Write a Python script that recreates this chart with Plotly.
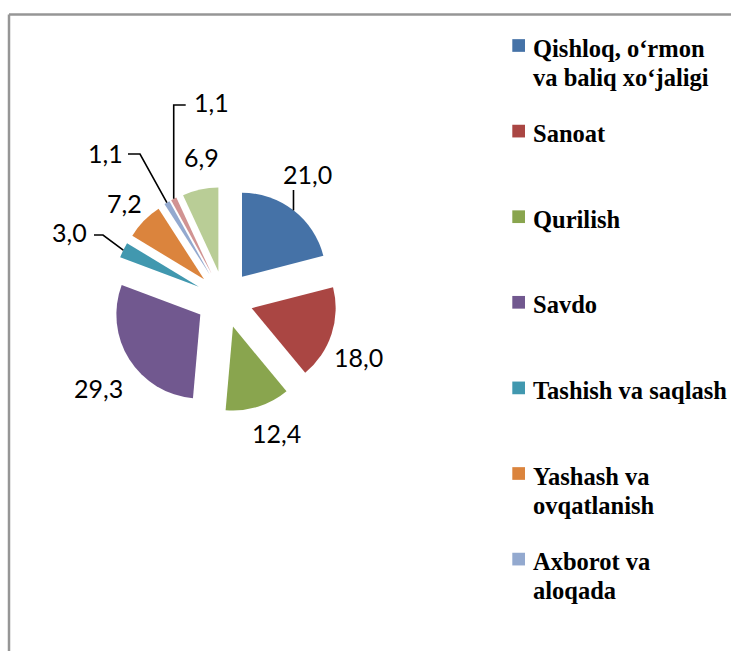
import math
import plotly.graph_objects as go

# ---------------- data ----------------
categories = [
    "Qishloq, o‘rmon va baliq xo‘jaligi",
    "Sanoat",
    "Qurilish",
    "Savdo",
    "Tashish va saqlash",
    "Yashash va ovqatlanish",
    "Axborot va aloqada",
    "Moliya va sug‘urta faoliyati",
    "Boshqa xizmatlar",
]
values = [21.0, 18.0, 12.4, 29.3, 3.0, 7.2, 1.1, 1.1, 6.9]

# legend text lines (as they wrap in the original)
legend_lines = [
    ["Qishloq, o‘rmon", "va baliq xo‘jaligi"],
    ["Sanoat"],
    ["Qurilish"],
    ["Savdo"],
    ["Tashish va saqlash"],
    ["Yashash va", "ovqatlanish"],
    ["Axborot va", "aloqada"],
]

# ---------------- style / layout ----------------
W, H = 731, 651
colors = ["#4572A7", "#AA4643", "#89A54E", "#71588F", "#4198AF",
          "#DB843D", "#93A9CF", "#D19392", "#B9CD96"]

PIE_CX, PIE_CY = 224.5, 299.3   # pixel centre of the pie
PIE_R = 84.0                     # pixel radius of the pie
PULL = 0.34

def px(x):
    return x / W

def py(y):
    return 1 - y / H

half = PIE_R * (1 + PULL)
dom_x = [px(PIE_CX - half), px(PIE_CX + half)]
dom_y = [py(PIE_CY + half), py(PIE_CY - half)]

fig = go.Figure()
fig.add_trace(go.Pie(
    values=values,
    labels=categories,
    sort=False,
    direction="clockwise",
    rotation=0,
    pull=[PULL] * len(values),
    marker=dict(colors=colors, line=dict(width=0)),
    textinfo="none",
    hoverinfo="label+value",
    showlegend=False,
    domain=dict(x=dom_x, y=dom_y),
))

# --------------- data labels ---------------
label_pos = [(307, 174), (358, 357), (276, 433), (98, 388), (69, 232),
             (124, 203), (105, 153), (211, 102), (201, 157)]

annotations = []
shapes = []
for v, (lx, ly) in zip(values, label_pos):
    annotations.append(dict(
        x=px(lx), y=py(ly), xref="paper", yref="paper",
        text=f"{v:.1f}".replace(".", ","), showarrow=False,
        xanchor="center", yanchor="middle",
        font=dict(family="Lato, Carlito, sans-serif", size=25, color="#000000"),
    ))

# --------------- leader lines (anchored on slice mid angles) ---------------
total = sum(values)
cum = 0.0
anchors = []
for v in values:
    th = math.radians(360.0 * (cum + v / 2) / total)
    cum += v
    d = PIE_R * (1 + PULL)
    anchors.append((PIE_CX + d * math.sin(th), PIE_CY - d * math.cos(th)))

def leader(points):
    path = "M " + " L ".join(f"{px(x):.5f},{py(y):.5f}" for x, y in points)
    shapes.append(dict(type="path", path=path, xref="paper", yref="paper",
                       line=dict(color="#000000", width=1.6)))

a = anchors[0]
leader([a, (a[0], 190)])
a = anchors[4]
leader([a, (103, 235), (94, 235)])
a = anchors[6]
leader([a, (140, 154), (128, 154)])
a = anchors[7]
leader([a, (a[0], 105), (a[0] + 12, 105)])

# --------------- legend (manual, first 7 visible entries) ---------------
leg_sq_x0, leg_sq_size = 512.3, 12.7
leg_text_x = 531.0
leg_first_mid = 48.0
leg_step = 85.6
leg_line_gap = 29.0
for i, lines in enumerate(legend_lines):
    ymid = leg_first_mid + i * leg_step
    sq_c = ymid - 2.5
    shapes.append(dict(type="rect", xref="paper", yref="paper",
                       x0=px(leg_sq_x0), x1=px(leg_sq_x0 + leg_sq_size),
                       y0=py(sq_c - leg_sq_size / 2), y1=py(sq_c + leg_sq_size / 2),
                       fillcolor=colors[i], line=dict(width=0)))
    for j, t in enumerate(lines):
        annotations.append(dict(
            x=px(leg_text_x), y=py(ymid + j * leg_line_gap),
            xref="paper", yref="paper", text=f"<b>{t}</b>", showarrow=False,
            xanchor="left", yanchor="middle",
            font=dict(family="Liberation Serif, Times New Roman, serif",
                      size=24.5, color="#000000"),
        ))

# --------------- chart border ---------------
shapes.append(dict(type="line", xref="paper", yref="paper",
                   x0=px(9), x1=px(W + 5), y0=py(14.5), y1=py(14.5),
                   line=dict(color="#969696", width=2.5)))
shapes.append(dict(type="line", xref="paper", yref="paper",
                   x0=px(9), x1=px(9), y0=py(14.5), y1=py(H + 5),
                   line=dict(color="#969696", width=2.5)))

fig.update_layout(
    width=W, height=H,
    margin=dict(l=0, r=0, t=0, b=0),
    paper_bgcolor="#ffffff", plot_bgcolor="#ffffff",
    annotations=annotations, shapes=shapes,
    showlegend=False,
)

fig.write_html(
    "out.html",
    config={"displayModeBar": False},
    post_script="document.body.style.margin='0';document.body.style.overflow='hidden';",
)
